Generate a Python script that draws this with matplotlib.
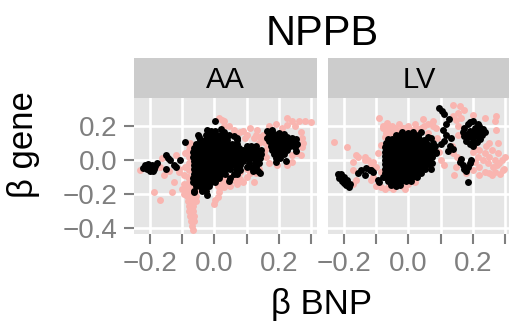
import numpy as np
import matplotlib
matplotlib.use("Agg")
import matplotlib.pyplot as plt

plt.rcParams["font.family"] = ["Liberation Sans", "DejaVu Sans"]

# facet names, ticks and tick labels
panels = ["AA", "LV"]
x_ticks = [-0.2, -0.1, 0.0, 0.1, 0.2, 0.3]
x_labels = ["\u22120.2", "", "0.0", "", "0.2", ""]
y_ticks = [0.2, 0.0, -0.2, -0.4]
y_labels = ["0.2", "0.0", "\u22120.2", "\u22120.4"]

# (beta BNP, beta gene) pairs, pink = all probes, black = significant
aa_pink = [
    (-0.085, -0.15), (-0.07, -0.15), (-0.055, -0.15), (-0.088, -0.18), (-0.074, -0.18), (-0.06, -0.18),
    (-0.085, -0.21), (-0.07, -0.21), (-0.056, -0.21), (-0.082, -0.24), (-0.068, -0.24), (-0.056, -0.24),
    (-0.08, -0.27), (-0.066, -0.27), (-0.078, -0.30), (-0.065, -0.30), (-0.076, -0.33), (-0.064, -0.33),
    (-0.074, -0.36), (-0.064, -0.36), (-0.07, -0.39), (-0.068, -0.415),
    (-0.189, -0.188), (-0.168, -0.238), (-0.132, -0.188), (-0.127, -0.129), (-0.158, -0.089), (-0.095, -0.139),
    (-0.163, 0.01), (-0.23, -0.059), (-0.111, -0.05), (-0.168, -0.04), (-0.09, 0.04), (-0.09, -0.04),
    (-0.095, -0.09), (-0.111, -0.07), (-0.14, -0.065), (-0.12, 0.03),
    (-0.078, 0.06), (-0.08, 0.02), (-0.078, -0.02), (-0.08, -0.06), (-0.082, -0.1), (-0.08, -0.13),
    (-0.075, 0.1), (-0.08, 0.089), (-0.095, -0.2), (-0.1, -0.17),
    (-0.002, -0.257), (0.003, -0.238), (0.01, -0.215), (0.015, -0.19), (0.02, -0.16), (0.025, -0.13),
    (0.029, -0.109), (0.045, -0.1), (0.06, -0.12), (0.04, -0.14), (0.01, -0.15),
    (0.06, -0.1), (0.08, -0.11), (0.09, -0.13), (0.07, -0.14), (0.05, -0.15), (0.03, -0.16), (0.1, -0.1),
    (0.013, 0.248), (0.029, 0.228), (0.024, 0.238), (0.045, 0.2), (0.081, 0.168), (0.112, 0.188),
    (0.06, 0.18), (0.09, 0.17), (0.03, 0.2),
    (0.133, 0.178), (0.143, 0.138), (0.122, 0.129), (0.096, 0.129), (0.153, 0.109), (0.164, 0.069),
    (0.15, 0.12), (0.16, 0.1), (0.14, 0.1), (0.155, 0.05), (0.17, 0.2), (0.19, 0.21), (0.21, 0.19), (0.13, 0.15),
    (0.159, 0.02), (0.169, -0.02), (0.195, -0.03), (0.226, -0.03), (0.242, -0.01), (0.268, 0.03),
    (0.273, 0.079), (0.273, 0.129), (0.268, 0.168), (0.226, 0.248), (0.242, 0.232), (0.262, 0.228),
    (0.283, 0.228), (0.299, 0.224), (0.252, 0.198), (0.226, 0.208), (0.128, -0.079), (0.102, -0.05),
    (0.081, -0.07), (0.122, -0.129), (0.112, -0.079), (0.138, -0.05), (0.277, 0.1), (0.257, 0.04),
    (0.24, 0.03), (0.15, 0.15), (0.1, 0.15), (0.06, 0.15),
]

aa_black = [
    (-0.215, -0.03), (-0.205, -0.025), (-0.195, -0.03), (-0.185, -0.035), (-0.21, -0.05), (-0.198, -0.05),
    (-0.188, -0.05), (-0.2, -0.065), (-0.222, -0.045), (-0.18, -0.02), (-0.19, -0.065),
    (-0.152, 0.03), (-0.145, 0.015), (-0.137, 0.0), (-0.127, -0.03), (-0.152, -0.05), (-0.106, 0.0),
    (-0.12, -0.04), (-0.09, 0.109), (-0.049, 0.138), (0.003, 0.228), (-0.023, 0.178), (-0.023, -0.205),
    (-0.064, -0.188), (-0.038, -0.178),
    (-0.045, 0.12), (-0.03, 0.12), (-0.016, 0.12), (-0.002, 0.12), (0.012, 0.12), (0.026, 0.12), (0.04, 0.12), (0.07, 0.12),
    (-0.058, 0.095), (-0.044, 0.095), (-0.03, 0.095), (-0.016, 0.095), (-0.002, 0.095), (0.012, 0.095),
    (0.026, 0.095), (0.04, 0.095), (0.054, 0.095), (0.07, 0.095),
    (-0.064, 0.07), (-0.05, 0.07), (-0.036, 0.07), (-0.022, 0.07), (-0.008, 0.07), (0.006, 0.07),
    (0.02, 0.07), (0.034, 0.07), (0.048, 0.07), (0.062, 0.07), (0.076, 0.07),
    (-0.066, 0.045), (-0.052, 0.045), (-0.038, 0.045), (-0.024, 0.045), (-0.01, 0.045), (0.004, 0.045),
    (0.018, 0.045), (0.032, 0.045), (0.046, 0.045), (0.06, 0.045), (0.074, 0.045), (0.086, 0.045),
    (-0.066, 0.02), (-0.052, 0.02), (-0.038, 0.02), (-0.024, 0.02), (-0.01, 0.02), (0.004, 0.02),
    (0.018, 0.02), (0.032, 0.02), (0.046, 0.02), (0.06, 0.02), (0.074, 0.02), (0.088, 0.02),
    (-0.064, -0.005), (-0.05, -0.005), (-0.036, -0.005), (-0.022, -0.005), (-0.008, -0.005), (0.006, -0.005),
    (0.02, -0.005), (0.034, -0.005), (0.048, -0.005), (0.062, -0.005), (0.076, -0.005), (0.09, -0.005),
    (-0.062, -0.03), (-0.048, -0.03), (-0.034, -0.03), (-0.02, -0.03), (-0.006, -0.03), (0.008, -0.03),
    (0.022, -0.03), (0.036, -0.03), (0.05, -0.03), (0.064, -0.03), (0.08, -0.03),
    (-0.062, -0.055), (-0.048, -0.055), (-0.034, -0.055), (-0.02, -0.055), (-0.006, -0.055), (0.008, -0.055),
    (0.022, -0.055), (0.036, -0.055), (0.05, -0.055), (0.066, -0.055),
    (-0.064, -0.08), (-0.05, -0.08), (-0.036, -0.08), (-0.022, -0.08), (-0.008, -0.08), (0.006, -0.08),
    (0.02, -0.08), (0.034, -0.08), (0.06, -0.08),
    (-0.066, -0.105), (-0.052, -0.105), (-0.038, -0.105), (-0.024, -0.105), (-0.01, -0.105), (0.004, -0.105), (0.014, -0.105),
    (-0.066, -0.13), (-0.052, -0.13), (-0.038, -0.13), (-0.024, -0.13), (-0.01, -0.13), (0.002, -0.13),
    (-0.058, -0.155), (-0.044, -0.155), (-0.03, -0.155), (-0.016, -0.155),
    (-0.062, -0.18), (-0.04, -0.18), (-0.026, -0.18),
    (-0.05, 0.145), (-0.025, 0.145), (-0.01, 0.145), (0.005, 0.145), (0.018, 0.145), (0.032, 0.145), (0.062, 0.14),
    (-0.012, 0.17), (0.002, 0.17), (0.02, 0.185), (0.029, 0.168), (0.07, 0.129), (0.045, 0.15),
    (0.048, -0.107), (0.045, -0.125), (0.07, -0.08), (0.08, -0.06),
    (0.1, 0.085), (0.115, 0.085), (0.13, 0.085), (0.09, 0.06), (0.104, 0.06), (0.118, 0.06), (0.132, 0.06),
    (0.146, 0.06), (0.09, 0.035), (0.104, 0.035), (0.118, 0.035), (0.132, 0.035), (0.146, 0.035),
    (0.1, 0.01), (0.114, 0.01), (0.128, 0.01), (0.142, 0.01), (0.108, -0.015), (0.125, -0.015), (0.14, -0.015),
    (0.1, -0.04), (0.115, -0.04), (0.13, -0.04), (0.12, -0.065), (0.135, -0.065), (0.142, -0.075),
    (0.165, 0.17), (0.18, 0.175), (0.17, 0.15), (0.185, 0.155), (0.2, 0.16), (0.215, 0.155),
    (0.165, 0.13), (0.18, 0.13), (0.195, 0.135), (0.21, 0.135), (0.225, 0.135), (0.24, 0.13), (0.255, 0.125),
    (0.17, 0.11), (0.185, 0.11), (0.2, 0.11), (0.215, 0.11), (0.23, 0.11), (0.245, 0.105), (0.258, 0.095),
    (0.175, 0.085), (0.19, 0.085), (0.205, 0.085), (0.22, 0.085), (0.235, 0.085), (0.25, 0.075),
    (0.18, 0.06), (0.195, 0.06), (0.21, 0.06), (0.225, 0.06), (0.255, 0.055),
    (0.185, 0.035), (0.2, 0.035), (0.215, 0.035), (0.19, 0.01), (0.205, 0.01), (0.19, -0.01), (0.222, -0.003),
]

lv_pink = [
    (-0.232, 0.105), (-0.19, 0.079), (-0.162, 0.03), (-0.157, 0.02), (-0.136, 0.02), (-0.136, 0.0),
    (-0.126, 0.0), (-0.116, -0.03), (-0.172, -0.059), (-0.172, -0.01), (-0.11, -0.01), (-0.116, -0.12),
    (-0.162, -0.119), (-0.172, -0.139), (-0.11, -0.099), (-0.1, -0.04), (-0.085, -0.07), (-0.095, 0.04),
    (-0.085, 0.089), (-0.074, 0.138), (-0.09, 0.248), (-0.079, 0.198), (-0.079, 0.188), (-0.06, 0.188),
    (-0.043, 0.188), (-0.017, 0.188), (0.009, 0.178), (-0.03, 0.17), (0.0, 0.2), (-0.055, 0.16),
    (-0.07, 0.16), (-0.05, 0.2), (-0.03, 0.21), (-0.01, 0.19), (0.02, 0.21), (0.03, 0.17), (0.06, 0.16),
    (0.06, 0.21), (-0.065, 0.22), (0.045, 0.24),
    (-0.085, -0.158), (-0.064, -0.158), (-0.048, -0.168), (-0.074, -0.168), (-0.058, -0.158),
    (-0.023, -0.129), (0.019, -0.129), (-0.1, -0.15), (-0.04, -0.15), (-0.02, -0.15), (0.0, -0.14), (-0.01, -0.17),
    (0.024, 0.188), (0.05, 0.198), (0.076, 0.228), (0.086, 0.188), (0.076, 0.198), (0.04, 0.188),
    (0.149, 0.238), (0.154, 0.198), (0.138, 0.327), (0.159, 0.317), (0.174, 0.297), (0.154, 0.277),
    (0.2, 0.267), (0.237, 0.248), (0.273, 0.257), (0.268, 0.228), (0.273, 0.178), (0.14, 0.26), (0.165, 0.25),
    (0.221, 0.059), (0.237, 0.04), (0.252, 0.02), (0.268, 0.0), (0.283, -0.02), (0.294, -0.059),
    (0.262, -0.04), (0.247, -0.02), (0.231, 0.0), (0.216, 0.02), (0.206, -0.01), (0.221, -0.04),
    (0.237, -0.07), (0.25, -0.075), (0.27, -0.07), (0.298, -0.05), (0.28, 0.04), (0.26, 0.06),
    (0.24, 0.08), (0.2, 0.05), (0.28, 0.1), (0.25, 0.1), (0.205, 0.08),
    (0.22, -0.09), (0.26, -0.09), (0.285, -0.08), (0.29, 0.0), (0.3, 0.02), (0.275, -0.03),
    (0.014, 0.03), (0.055, -0.01), (0.066, -0.04), (0.014, -0.079), (0.149, -0.04), (0.143, -0.089),
    (0.18, -0.079), (0.14, 0.04), (0.15, 0.02), (0.135, 0.08), (0.1, 0.0), (0.095, 0.05), (0.11, -0.03),
    (0.2, -0.06), (0.09, 0.13), (0.155, 0.15),
]

lv_black = [
    (-0.22, -0.085), (-0.21, -0.08), (-0.215, -0.105), (-0.2, -0.1), (-0.205, -0.125), (-0.19, -0.12),
    (-0.195, -0.145), (-0.182, -0.14), (-0.185, -0.16), (-0.21, -0.095), (-0.2, -0.135),
    (-0.157, -0.079), (-0.147, -0.059), (-0.131, -0.046), (-0.12, -0.059), (-0.136, -0.089), (-0.11, -0.07),
    (-0.09, -0.129), (-0.079, -0.099), (-0.095, -0.119), (-0.116, -0.059),
    (-0.02, 0.168), (0.0, 0.16), (0.015, 0.165),
    (-0.04, 0.145), (-0.026, 0.15), (-0.012, 0.145), (0.002, 0.15), (0.016, 0.145), (0.03, 0.15),
    (-0.064, 0.122), (-0.05, 0.125), (-0.036, 0.125), (-0.022, 0.125), (-0.008, 0.125), (0.006, 0.125),
    (0.02, 0.125), (0.034, 0.125), (0.048, 0.12),
    (-0.07, 0.1), (-0.056, 0.1), (-0.042, 0.1), (-0.028, 0.1), (-0.014, 0.1), (0.0, 0.1), (0.014, 0.1),
    (0.028, 0.1), (0.042, 0.1), (0.056, 0.1),
    (-0.072, 0.075), (-0.058, 0.075), (-0.044, 0.075), (-0.03, 0.075), (-0.016, 0.075), (-0.002, 0.075),
    (0.012, 0.075), (0.026, 0.075), (0.04, 0.075), (0.054, 0.075), (0.064, 0.075),
    (-0.072, 0.05), (-0.058, 0.05), (-0.044, 0.05), (-0.03, 0.05), (-0.016, 0.05), (-0.002, 0.05),
    (0.012, 0.05), (0.026, 0.05), (0.04, 0.05), (0.054, 0.05), (0.066, 0.05),
    (-0.072, 0.025), (-0.058, 0.025), (-0.044, 0.025), (-0.03, 0.025), (-0.016, 0.025), (-0.002, 0.025),
    (0.012, 0.025), (0.026, 0.025), (0.04, 0.025), (0.054, 0.025), (0.066, 0.025),
    (-0.074, 0.0), (-0.06, 0.0), (-0.046, 0.0), (-0.032, 0.0), (-0.018, 0.0), (-0.004, 0.0),
    (0.01, 0.0), (0.024, 0.0), (0.038, 0.0), (0.052, 0.0), (0.064, 0.0),
    (-0.074, -0.025), (-0.06, -0.025), (-0.046, -0.025), (-0.032, -0.025), (-0.018, -0.025), (-0.004, -0.025),
    (0.01, -0.025), (0.024, -0.025), (0.038, -0.025), (0.052, -0.025), (0.06, -0.025),
    (-0.074, -0.05), (-0.06, -0.05), (-0.046, -0.05), (-0.032, -0.05), (-0.018, -0.05), (-0.004, -0.05),
    (0.01, -0.05), (0.024, -0.05), (0.038, -0.05), (0.052, -0.05),
    (-0.074, -0.075), (-0.06, -0.075), (-0.046, -0.075), (-0.032, -0.075), (-0.018, -0.075), (-0.004, -0.075),
    (0.01, -0.075), (0.024, -0.075), (0.04, -0.075),
    (-0.072, -0.1), (-0.058, -0.1), (-0.044, -0.1), (-0.03, -0.1), (-0.016, -0.1), (-0.002, -0.1),
    (0.012, -0.1), (0.028, -0.1),
    (-0.064, -0.125), (-0.05, -0.125), (-0.036, -0.125), (-0.022, -0.125), (-0.008, -0.125), (0.008, -0.125),
    (-0.055, -0.145), (-0.04, -0.15), (-0.025, -0.145),
    (0.03, 0.138), (0.04, 0.168), (0.075, 0.1), (0.072, 0.06), (0.074, 0.02), (0.074, -0.02), (0.07, -0.05),
    (0.082, 0.08), (0.085, 0.04),
    (0.095, 0.307), (0.105, 0.29), (0.112, 0.272), (0.125, 0.245), (0.117, 0.21), (0.107, 0.18), (0.117, 0.15),
    (0.133, 0.13), (0.112, 0.115), (0.102, 0.095), (0.128, 0.085), (0.138, 0.065), (0.123, 0.055),
    (0.086, 0.05), (0.076, 0.062), (0.066, 0.08), (0.055, 0.099), (0.045, 0.109), (0.061, 0.138), (0.071, 0.129),
    (0.2, 0.232), (0.185, 0.21), (0.174, 0.19), (0.169, 0.165), (0.172, 0.14), (0.18, 0.115), (0.19, 0.095),
    (0.206, 0.188), (0.221, 0.198), (0.232, 0.185), (0.237, 0.165), (0.23, 0.145), (0.222, 0.125),
    (0.212, 0.105), (0.2, 0.085), (0.195, 0.15), (0.19, 0.17), (0.21, 0.16), (0.2, 0.13), (0.185, 0.135),
    (0.215, 0.21), (0.19, 0.225), (0.205, 0.17), (0.215, 0.14), (0.2, 0.11), (0.225, 0.165), (0.185, 0.155),
    (0.21, 0.185),
    (0.159, -0.01), (0.169, -0.03), (0.174, -0.05), (0.18, -0.065), (0.184, -0.04), (0.19, -0.02),
    (0.194, 0.0), (0.164, 0.005), (0.185, -0.129),
]

W, H = 510, 327
fig = plt.figure(figsize=(W / 100, H / 100), dpi=100)


def box(left, top, width, height):
    # pixel box (from the top-left corner) -> figure fraction
    return [left / W, 1 - (top + height) / H, width / W, height / H]


data = {"AA": (aa_pink, aa_black), "LV": (lv_pink, lv_black)}
lefts = [134, 328]

for name, left in zip(panels, lefts):
    pink, black = data[name]
    pink = np.array(pink)
    black = np.array(black)

    ax = fig.add_axes(box(left, 98, 183, 136))
    ax.set_facecolor("#e5e5e5")
    for s in ax.spines.values():
        s.set_visible(False)
    ax.set_axisbelow(True)
    ax.grid(True, color="white", linewidth=1.9)
    ax.scatter(pink[:, 0], pink[:, 1], s=25, color="#f9b5b0", linewidths=0, zorder=2)
    ax.scatter(black[:, 0], black[:, 1], s=25, color="black", linewidths=0, zorder=3)
    ax.set_xlim(-0.25, 0.319)
    ax.set_ylim(-0.436, 0.366)
    ax.set_xticks(x_ticks)
    ax.set_xticklabels(x_labels)
    ax.set_yticks(y_ticks)
    ax.set_yticklabels(y_labels)
    ax.tick_params(colors="#7f7f7f", labelsize=20, length=7, width=1.5, pad=5)
    if name != "AA":
        ax.tick_params(axis="y", left=False, labelleft=False)

    strip = fig.add_axes(box(left, 58, 183, 40))
    strip.set_facecolor("#cccccc")
    strip.set_xticks([])
    strip.set_yticks([])
    for s in strip.spines.values():
        s.set_visible(False)
    strip.text(0.5, 0.45, name, ha="center", va="center", fontsize=21, transform=strip.transAxes)

fig.text(322 / W, 1 - 45 / H, "NPPB", ha="center", va="baseline", fontsize=30)
fig.text(322 / W, 1 - 314 / H, "\u03b2 BNP", ha="center", va="baseline", fontsize=25)
fig.text(24 / W, 1 - 145 / H, "\u03b2 gene", ha="center", va="center", rotation=90, fontsize=25)

fig.savefig("out.png", dpi=100)
